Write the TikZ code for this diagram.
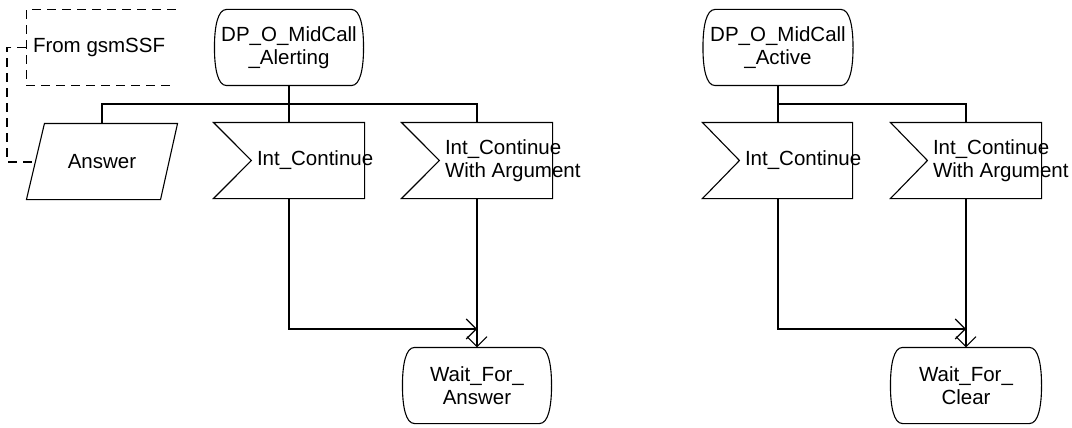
\documentclass[tikz,border=0pt]{standalone}
\usepackage{fontspec}
\setmainfont{Liberation Sans}
\usetikzlibrary{arrows.meta,calc}
\newcommand\drawstate[1]{%
  \draw ($(#1.north west)+(12,0)$) -- ($(#1.north east)+(-12,0)$)
    .. controls ($(#1.north east)+(-3,0)$) and ($(#1.north east)+(0,18)$) .. (#1.east)
    .. controls ($(#1.south east)+(0,-18)$) and ($(#1.south east)+(-3,0)$) .. ($(#1.south east)+(-12,0)$)
    -- ($(#1.south west)+(12,0)$)
    .. controls ($(#1.south west)+(3,0)$) and ($(#1.south west)+(0,-18)$) .. (#1.west)
    .. controls ($(#1.north west)+(0,18)$) and ($(#1.north west)+(3,0)$) .. cycle;}
\newcommand\drawsig[2]{%
  \draw (#1.north west) -- (#1.north east) -- (#1.south east) -- (#1.south west) -- ([xshift=#2]#1.west) -- cycle;}
\begin{document}
\begin{tikzpicture}[x=1pt,y=-1pt,line width=1.1pt,
  every node/.style={font=\fontsize{20.5}{23}\selectfont},
  statebox/.style={minimum width=148pt,minimum height=75pt,align=center,inner sep=0pt},
  sigbox/.style={minimum width=150pt,minimum height=75pt,inner sep=0pt},
  lbl/.style={anchor=west,align=left,inner sep=0pt},
  flow/.style={-{Straight Barb[length=10pt,width=20pt]}},
  cmtline/.style={dashed,dash pattern=on 9pt off 6pt}]
\useasboundingbox (0,0) rectangle (1072,428);
% comment
\node[minimum width=148pt,minimum height=75pt,inner sep=0pt] (cmt) at (101,47.5) {};
\node[lbl] (cmtt) at ([xshift=6pt]cmt.west) {From gsmSSF};
\draw[cmtline] (cmt.north east) -- (cmt.north west) -- (cmt.south west) -- (cmt.south east);
% left process
\node[statebox] (dp1) at (289,47.5) {DP\_O\_MidCall\\\_Alerting};
\drawstate{dp1}
\coordinate (bus1) at (289,104);
\node[sigbox] (ans) at (102,161.5) {};
\draw ([xshift=18pt]ans.north west) -- (ans.north east) -- ([xshift=-17pt]ans.south east) -- (ans.south west) -- cycle;
\node[inner sep=0pt] (anst) at (ans.center) {Answer};
\node[sigbox] (ic1) at (289,160.5) {};
\drawsig{ic1}{38pt}
\node[lbl] (ic1t) at ([xshift=43pt]ic1.west) {Int\_Continue};
\node[sigbox] (ica1) at (477,160.5) {};
\drawsig{ica1}{38pt}
\node[lbl] (ica1t) at ([xshift=43pt]ica1.west) {Int\_Continue\\With Argument};
\node[statebox] (wfa) at (477,385.5) {Wait\_For\_\\Answer};
\drawstate{wfa}
\coordinate (j1) at (477,329);
\draw (dp1.south) -- (bus1) -- (ic1.north);
\draw (ans.north) |- (bus1) -| (ica1.north);
\draw[flow] (ic1.south) |- (j1);
\draw[flow] (ica1.south) -- (wfa.north);
\coordinate (c1) at (7,47.5);
\coordinate (c2) at (7,162);
\draw[cmtline] (cmt.west) -- (c1) -- (c2) -- ([xshift=7pt]ans.west |- c2);
% right process
\node[statebox,minimum width=149pt] (dp2) at (778,47.5) {DP\_O\_MidCall\\\_Active};
\drawstate{dp2}
\coordinate (bus2) at (778,104);
\node[sigbox,minimum width=149pt] (ic2) at (777.5,160.5) {};
\drawsig{ic2}{37pt}
\node[lbl] (ic2t) at ([xshift=42pt]ic2.west) {Int\_Continue};
\node[sigbox] (ica2) at (966,160.5) {};
\drawsig{ica2}{37pt}
\node[lbl] (ica2t) at ([xshift=42pt]ica2.west) {Int\_Continue\\With Argument};
\node[statebox,minimum width=150pt] (wfc) at (966,385.5) {Wait\_For\_\\Clear};
\drawstate{wfc}
\coordinate (j2) at (966,329);
\draw (dp2.south) -- (bus2) -- (ic2.north -| bus2);
\draw (bus2) -| (ica2.north);
\draw[flow] (ic2.south -| bus2) |- (j2);
\draw[flow] (ica2.south) -- (wfc.north);
\end{tikzpicture}
\end{document}
